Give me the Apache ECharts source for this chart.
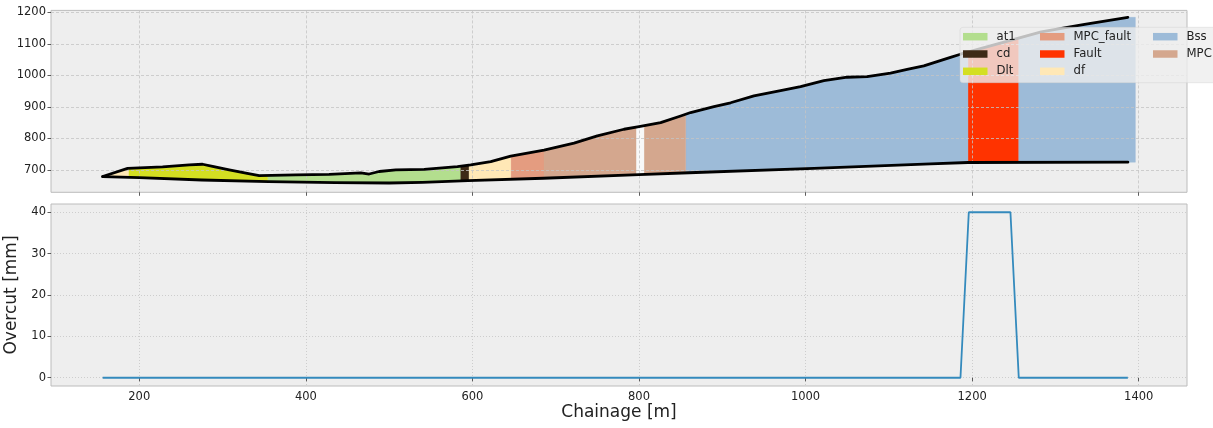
<!DOCTYPE html>
<html>
<head>
<meta charset="utf-8">
<script src="https://cdn.jsdelivr.net/npm/echarts@6/dist/echarts.min.js"></script>
<style>
html,body{margin:0;padding:0;background:#fff;}
#chart{width:1213px;height:428px;}
</style>
</head>
<body>
<div id="chart"></div>
<script>
// ---------- DATA ----------
const topChain = [156,186,228,260,276,288,308,328,344,388,428,466,476,488,508,542,582,598,622,646,686,722,750,782,800,826,850,862,890,910,938,970,994,1022,1050,1074,1102,1122,1142,1174,1186,1235,1283,1335,1387];
const topElev  = [679,705,709.5,716,718,711,700,689.5,682,684,686,690.5,687,695,700,702,710.5,716,726,744,763,785,808,829,837,850,871,882,901,913,935,951.5,964,983,994,996,1007,1019,1030,1057,1067,1103,1138,1162,1184];
const botChain = [156,200,275,355,435,500,540,595,685,800,860,1010,1150,1195,1387];
const botElev  = [679,675.5,668,663,660,658.5,660.5,666,673.5,685,691,705,719,723.5,724.5];

const segStart = [156,187,354,586,596,646,686,797,806,856,1195,1256];
const segEnd   = [187,354,586,596,646,686,797,806,856,1195,1256,1396];
const segUnit  = ['df','Dlt','at1','cd','df','MPC_fault','MPC','none','MPC','Bss','Fault','Bss'];

const legendCols = [['at1','cd','Dlt'],['MPC_fault','Fault','df'],['Bss','MPC']];

const overcutChain = [156,1186,1196,1246,1256,1387];
const overcutVal   = [0,0,40,40,0,0];

const xTicks = [200,400,600,800,1000,1200,1400];
const yTopTicks = [700,800,900,1000,1100,1200];
const yBotTicks = [0,10,20,30,40];

// ---------- STYLE ----------
const unitColor = {
  at1:'#b3de8e', cd:'#3e2a16', Dlt:'#d4df22', MPC_fault:'#e49c80', Fault:'#ff3300',
  df:'#ffe8b6', Bss:'#9dbbd8', MPC:'#d4a78e', none:'#f8f8f8'
};
const FONT = 'DejaVu Sans';

function interp(cs, es, c){
  const n = cs.length;
  if (c <= cs[0]) return es[0];
  if (c >= cs[n-1]) return es[n-1];
  for (let i=0;i<n-1;i++){
    if (c >= cs[i] && c <= cs[i+1]){
      const t = (c-cs[i])/(cs[i+1]-cs[i]);
      return es[i] + t*(es[i+1]-es[i]);
    }
  }
  return es[n-1];
}

function makeFillSeries(unit){
  const data = [];
  segUnit.forEach((u,i)=>{ if(u===unit) data.push([segStart[i], segEnd[i], 700]); });
  const col = unitColor[unit];
  return {
    type:'custom', name:unit, xAxisIndex:0, yAxisIndex:0, z:2, clip:true,
    itemStyle:{color:col},
    encode:{x:[0,1], y:2},
    data:data,
    renderItem:function(params, api){
      const c0 = api.value(0), c1 = api.value(1);
      const pts = [];
      const tx = [c0].concat(topChain.filter(c=>c>c0 && c<c1)).concat([c1]);
      tx.forEach(c=>pts.push(api.coord([c, interp(topChain, topElev, c)])));
      const bx = [c0].concat(botChain.filter(c=>c>c0 && c<c1)).concat([c1]).reverse();
      bx.forEach(c=>pts.push(api.coord([c, interp(botChain, botElev, c)])));
      return {type:'polygon', shape:{points:pts}, style:{fill:col, stroke:col, lineWidth:0.4}};
    }
  };
}

const fillUnits = ['at1','cd','Dlt','MPC_fault','Fault','df','Bss','MPC','none'];
const series = fillUnits.map(makeFillSeries);

series.push({
  type:'line', name:'surface', xAxisIndex:0, yAxisIndex:0, z:4, showSymbol:false, silent:true,
  data: topChain.map((c,i)=>[c, topElev[i]]),
  lineStyle:{color:'#000', width:2.8, join:'round', cap:'round'}
});
series.push({
  type:'line', name:'alignment', xAxisIndex:0, yAxisIndex:0, z:4, showSymbol:false, silent:true,
  data: botChain.map((c,i)=>[c, botElev[i]]),
  lineStyle:{color:'#000', width:2.8, join:'round', cap:'round'}
});
series.push({
  type:'line', name:'Overcut', xAxisIndex:1, yAxisIndex:1, z:4, showSymbol:false, silent:true,
  data: overcutChain.map((c,i)=>[c, overcutVal[i]]),
  lineStyle:{color:'#348ABD', width:1.8}
});

const tickStyle = {show:true, inside:false, length:3.5, lineStyle:{color:'#333', width:0.8}};
const labelStyle = {fontFamily:FONT, fontSize:11.5, color:'#222', formatter:function(v){return String(v);}};

const colX = [963, 1040, 1153];
const legends = legendCols.map((items,k)=>({
  data: items, orient:'vertical', left: colX[k], top: 29.7, padding:0,
  itemWidth:24.5, itemHeight:7.5, itemGap:3.3, icon:'rect', z:6, selectedMode:false,
  textStyle:{fontFamily:FONT, fontSize:11.7, color:'#222', lineHeight:14, padding:[0,0,0,4]},
  itemStyle:{borderWidth:0}
}));

const gridLine = {color:'#c4c4c4', width:0.8};

const option = {
  animation:false,
  backgroundColor:'#ffffff',
  grid:[
    {left:51, top:10.4, width:1136, height:181.9, show:true, backgroundColor:'#eeeeee', borderColor:'#bcbcbc', borderWidth:1, containLabel:false, outerBoundsMode:'none'},
    {left:51, top:204, width:1136, height:182, show:true, backgroundColor:'#eeeeee', borderColor:'#bcbcbc', borderWidth:1, containLabel:false, outerBoundsMode:'none'}
  ],
  xAxis:[
    {type:'value', gridIndex:0, min:94, max:1458, splitNumber:7, z:3,
     axisLine:{show:false},
     axisTick:Object.assign({customValues:xTicks}, tickStyle),
     axisLabel:{show:false},
     splitLine:{show:true, lineStyle:Object.assign({type:[3,2]}, gridLine)}},
    {type:'value', gridIndex:1, min:94, max:1458, splitNumber:7,
     axisLine:{show:false},
     axisTick:Object.assign({customValues:xTicks}, tickStyle),
     axisLabel:Object.assign({customValues:xTicks, margin:5}, labelStyle),
     splitLine:{show:true, lineStyle:Object.assign({type:[1,2]}, gridLine)},
     name:'Chainage [m]', nameLocation:'middle', nameGap:15,
     nameTextStyle:{fontFamily:FONT, fontSize:17, color:'#222', verticalAlign:'top'}}
  ],
  yAxis:[
    {type:'value', gridIndex:0, min:629, max:1206, splitNumber:5, z:3,
     axisLine:{show:false},
     axisTick:Object.assign({customValues:yTopTicks}, tickStyle),
     axisLabel:Object.assign({customValues:yTopTicks, margin:5}, labelStyle),
     splitLine:{show:true, lineStyle:Object.assign({type:[3,2]}, gridLine)}},
    {type:'value', gridIndex:1, min:-2, max:42, splitNumber:5,
     axisLine:{show:false},
     axisTick:Object.assign({customValues:yBotTicks}, tickStyle),
     axisLabel:Object.assign({customValues:yBotTicks, margin:5}, labelStyle),
     splitLine:{show:true, lineStyle:Object.assign({type:[1,2]}, gridLine)},
     name:'Overcut [mm]', nameLocation:'middle', nameGap:24, nameRotate:90,
     nameTextStyle:{fontFamily:FONT, fontSize:17, color:'#222'}}
  ],
  legend: legends,
  graphic:{elements:[
    {type:'rect', z:5, silent:true, shape:{x:960, y:27.3, width:270, height:55.4, r:3},
     style:{fill:'rgba(238,238,238,0.8)', stroke:'rgba(204,204,204,0.5)', lineWidth:0.8}}
  ]},
  series: series
};

const chart = echarts.init(document.getElementById('chart'), null, {renderer:'canvas'});
chart.setOption(option);
</script>
</body>
</html>
